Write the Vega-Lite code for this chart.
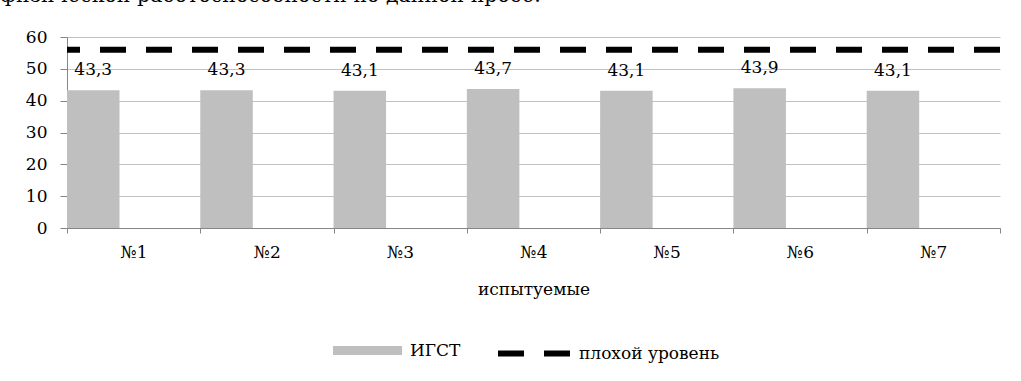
{
  "$schema": "https://vega.github.io/schema/vega-lite/v6.json",
  "width": 933,
  "height": 191,
  "autosize": {"type": "none"},
  "padding": {"left": 67, "top": 37, "right": 21, "bottom": 153},
  "background": "white",
  "config": {
    "font": "DejaVu Serif",
    "locale": {"number": {"decimal": ",", "thousands": " ", "grouping": [3], "currency": ["", " ₽"]}},
    "view": {"stroke": null},
    "axis": {
      "labelFont": "DejaVu Serif",
      "titleFont": "DejaVu Serif",
      "labelFontSize": 17,
      "titleFontSize": 17,
      "labelColor": "black",
      "titleColor": "black",
      "titleFontWeight": "normal",
      "domainColor": "#868686",
      "tickColor": "#868686",
      "gridColor": "#c0c0c0"
    },
    "legend": {
      "labelFont": "DejaVu Serif",
      "labelFontSize": 17,
      "labelColor": "black"
    }
  },
  "title": {
    "text": "физической работоспособности по данной пробе.",
    "anchor": "start",
    "frame": "group",
    "orient": "top",
    "offset": 6,
    "baseline": "alphabetic",
    "dx": -67,
    "fontSize": 20.5,
    "fontWeight": "normal",
    "color": "black",
    "font": "DejaVu Serif"
  },
  "datasets": {
    "igst": [
      {"subject": "№1", "value": 43.3, "series": "ИГСТ"},
      {"subject": "№2", "value": 43.3, "series": "ИГСТ"},
      {"subject": "№3", "value": 43.1, "series": "ИГСТ"},
      {"subject": "№4", "value": 43.7, "series": "ИГСТ"},
      {"subject": "№5", "value": 43.1, "series": "ИГСТ"},
      {"subject": "№6", "value": 43.9, "series": "ИГСТ"},
      {"subject": "№7", "value": 43.1, "series": "ИГСТ"}
    ],
    "level": [
      {"value": 56, "series": "плохой уровень"}
    ]
  },
  "layer": [
    {
      "data": {"name": "igst"},
      "mark": {"type": "bar", "width": {"band": 0.394}, "xOffset": -40.4},
      "encoding": {
        "x": {
          "field": "subject",
          "type": "nominal",
          "sort": null,
          "scale": {"paddingInner": 0, "paddingOuter": 0},
          "title": "испытуемые",
          "axis": {
            "labelAngle": 0,
            "labelPadding": 11,
            "tickBand": "extent",
            "tickSize": 5,
            "titlePadding": 21,
            "grid": false
          }
        },
        "y": {
          "field": "value",
          "type": "quantitative",
          "scale": {"domain": [0, 60], "nice": false},
          "title": null,
          "axis": {
            "values": [0, 10, 20, 30, 40, 50, 60],
            "tickSize": 7,
            "labelPadding": 13,
            "labelOverlap": false,
            "grid": true,
            "format": "d"
          }
        },
        "fill": {
          "field": "series",
          "type": "nominal",
          "scale": {"range": ["#bfbfbf"]},
          "legend": {
            "title": null,
            "orient": "none",
            "legendX": 266,
            "legendY": 279,
            "padding": 0,
            "symbolType": "M-1,-0.13H1V0.13H-1Z",
            "symbolSize": 4761,
            "symbolStrokeWidth": 0,
            "labelOffset": 8
          }
        }
      }
    },
    {
      "data": {"name": "igst"},
      "mark": {"type": "text", "xOffset": -40.4, "dy": -15, "baseline": "alphabetic", "fontSize": 17, "color": "black", "font": "DejaVu Serif"},
      "encoding": {
        "x": {"field": "subject", "type": "nominal", "sort": null},
        "y": {
          "field": "value",
          "type": "quantitative",
          "axis": {
            "values": [0, 10, 20, 30, 40, 50, 60],
            "tickSize": 7,
            "labelPadding": 13,
            "labelOverlap": false,
            "grid": true,
            "format": "d"
          }
        },
        "text": {"field": "value", "type": "quantitative", "format": ".1f"}
      }
    },
    {
      "data": {"name": "level"},
      "mark": {"type": "rule", "strokeWidth": 6, "color": "black"},
      "encoding": {
        "y": {
          "field": "value",
          "type": "quantitative",
          "axis": {
            "values": [0, 10, 20, 30, 40, 50, 60],
            "tickSize": 7,
            "labelPadding": 13,
            "labelOverlap": false,
            "grid": true,
            "format": "d"
          }
        },
        "strokeDash": {
          "field": "series",
          "type": "nominal",
          "scale": {"range": [[26, 20]]},
          "legend": {
            "title": null,
            "orient": "none",
            "legendX": 428,
            "legendY": 277,
            "padding": 0,
            "symbolType": "stroke",
            "symbolSize": 5329,
            "symbolStrokeWidth": 6,
            "symbolStrokeColor": "black",
            "labelOffset": 5,
            "encode": {"symbols": {"update": {"strokeDash": {"value": [29, 20]}}}}
          }
        }
      }
    }
  ]
}
